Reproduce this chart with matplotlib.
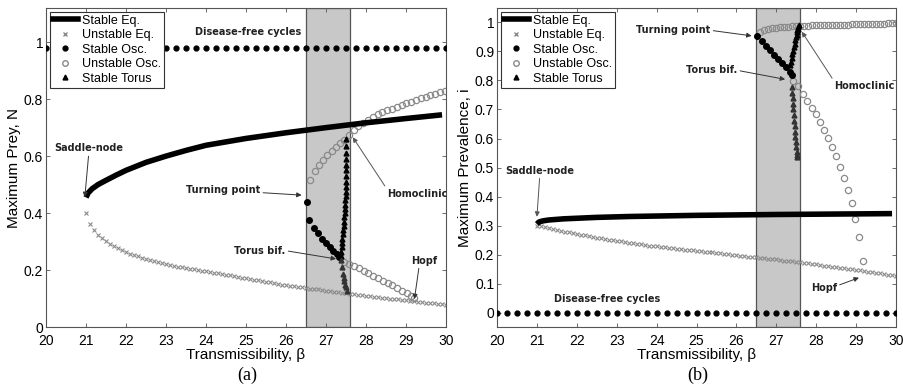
import numpy as np
import matplotlib.pyplot as plt
from matplotlib.lines import Line2D

# ---------------- panel (a): maximum prey N ----------------
a_seq_b = [21.0, 21.05, 21.15, 21.3, 21.5, 21.75, 22.0, 22.5, 23.0, 23.5, 24.0, 25.0, 26.0, 27.0, 28.0, 29.0, 29.9]
a_seq_y = [0.455, 0.47, 0.485, 0.50, 0.515, 0.533, 0.55, 0.578, 0.60, 0.62, 0.638, 0.662, 0.682, 0.700, 0.717, 0.732, 0.745]

a_ueq_b = np.round(np.arange(21.0, 30.01, 0.1), 2)
a_ueq_y = [0.400, 0.362, 0.340, 0.324, 0.311, 0.301, 0.292, 0.284, 0.277, 0.270,
           0.264, 0.258, 0.253, 0.248, 0.243, 0.239, 0.235, 0.231, 0.228, 0.224,
           0.221, 0.218, 0.215, 0.212, 0.210, 0.207, 0.205, 0.202, 0.200, 0.197,
           0.195, 0.193, 0.190, 0.188, 0.186, 0.183, 0.181, 0.178, 0.176, 0.173,
           0.171, 0.169, 0.166, 0.164, 0.161, 0.159, 0.157, 0.154, 0.152, 0.149,
           0.147, 0.145, 0.143, 0.141, 0.139, 0.137, 0.135, 0.134, 0.132, 0.130,
           0.128, 0.126, 0.124, 0.122, 0.120, 0.119, 0.117, 0.115, 0.113, 0.112,
           0.110, 0.108, 0.107, 0.105, 0.103, 0.102, 0.100, 0.098, 0.097, 0.095,
           0.094, 0.092, 0.091, 0.089, 0.087, 0.086, 0.084, 0.083, 0.081, 0.080,
           0.078]

a_sosc_b = [26.52, 26.58, 26.71, 26.79, 26.9, 27.0, 27.1, 27.18, 27.27, 27.33]
a_sosc_y = [0.438, 0.374, 0.347, 0.329, 0.309, 0.295, 0.28, 0.268, 0.256, 0.247]

a_uosc1_b = [26.61, 26.73, 26.83, 26.93, 27.03, 27.15, 27.25, 27.35, 27.46, 27.57, 27.69, 27.81,
             27.93, 28.05, 28.17, 28.29, 28.41, 28.53, 28.65, 28.77, 28.89, 29.01, 29.13, 29.25,
             29.37, 29.49, 29.61, 29.73, 29.85, 29.97]
a_uosc1_y = [0.517, 0.548, 0.57, 0.588, 0.604, 0.618, 0.632, 0.646, 0.658, 0.674, 0.69, 0.704,
             0.716, 0.727, 0.737, 0.747, 0.755, 0.761, 0.767, 0.773, 0.779, 0.785, 0.791, 0.797,
             0.803, 0.809, 0.814, 0.819, 0.824, 0.829]
a_uosc2_b = [27.46, 27.58, 27.7, 27.82, 27.94, 28.06, 28.18, 28.3, 28.42, 28.54, 28.66, 28.78,
             28.9, 29.02, 29.12, 29.2]
a_uosc2_y = [0.229, 0.222, 0.214, 0.206, 0.197, 0.189, 0.18, 0.172, 0.163, 0.155, 0.146, 0.137,
             0.128, 0.118, 0.109, 0.101]

a_tor1_b = [27.37, 27.38, 27.39, 27.40, 27.41, 27.42, 27.43, 27.44, 27.45, 27.46, 27.47, 27.475,
            27.48, 27.485, 27.49, 27.49, 27.495, 27.5, 27.5, 27.5, 27.505, 27.505, 27.51, 27.51, 27.51]
a_tor1_y = [0.25, 0.265, 0.28, 0.295, 0.31, 0.325, 0.34, 0.355, 0.37, 0.385, 0.40, 0.415,
            0.43, 0.445, 0.46, 0.475, 0.49, 0.51, 0.53, 0.55, 0.57, 0.59, 0.61, 0.635, 0.66]
a_tor2_b = [27.38, 27.40, 27.42, 27.44, 27.46, 27.48, 27.5, 27.52]
a_tor2_y = [0.235, 0.21, 0.186, 0.172, 0.16, 0.148, 0.139, 0.128]

a_dfc_y = 0.98

# ---------------- panel (b): maximum prevalence i ----------------
b_seq_b = [21.0, 21.05, 21.15, 21.3, 21.67, 22.5, 23.3, 25.0, 27.0, 29.0, 29.9]
b_seq_y = [0.305, 0.312, 0.316, 0.319, 0.323, 0.328, 0.331, 0.335, 0.338, 0.340, 0.341]

b_ueq_b = np.round(np.arange(21.0, 30.01, 0.1), 2)
b_ueq_y = [0.300, 0.297, 0.294, 0.291, 0.288, 0.285, 0.282, 0.279, 0.277, 0.274,
           0.271, 0.268, 0.266, 0.263, 0.261, 0.258, 0.256, 0.254, 0.251, 0.249,
           0.247, 0.245, 0.243, 0.241, 0.239, 0.237, 0.235, 0.233, 0.231, 0.230,
           0.228, 0.226, 0.225, 0.223, 0.222, 0.220, 0.219, 0.217, 0.216, 0.214,
           0.213, 0.211, 0.210, 0.208, 0.207, 0.205, 0.204, 0.202, 0.201, 0.199,
           0.198, 0.196, 0.195, 0.193, 0.192, 0.190, 0.189, 0.187, 0.186, 0.184,
           0.183, 0.181, 0.179, 0.178, 0.176, 0.174, 0.173, 0.171, 0.169, 0.168,
           0.166, 0.164, 0.162, 0.160, 0.158, 0.157, 0.155, 0.153, 0.151, 0.149,
           0.147, 0.145, 0.143, 0.141, 0.139, 0.137, 0.135, 0.133, 0.130, 0.128,
           0.126]

b_sosc_b = [26.51, 26.63, 26.74, 26.84, 26.94, 27.05, 27.15, 27.24, 27.33, 27.39]
b_sosc_y = [0.952, 0.935, 0.919, 0.904, 0.889, 0.875, 0.861, 0.846, 0.831, 0.82]

b_uosc1_b = np.round(np.arange(26.6, 30.01, 0.1), 2)
b_uosc1_y = [0.966, 0.973, 0.977, 0.980, 0.982, 0.984, 0.985, 0.986, 0.987, 0.988,
             0.988, 0.989, 0.989, 0.990, 0.990, 0.991, 0.991, 0.991, 0.992, 0.992,
             0.993, 0.993, 0.993, 0.994, 0.994, 0.994, 0.995, 0.995, 0.995, 0.996,
             0.996, 0.996, 0.997, 0.997, 0.997]
b_uosc2_b = [27.43, 27.55, 27.68, 27.78, 27.89, 28.0, 28.1, 28.2, 28.3, 28.39, 28.5, 28.6,
             28.7, 28.79, 28.89, 28.98, 29.08, 29.17]
b_uosc2_y = [0.797, 0.781, 0.755, 0.729, 0.706, 0.683, 0.657, 0.629, 0.603, 0.57, 0.539, 0.503,
             0.465, 0.423, 0.377, 0.323, 0.26, 0.178]

b_tor1_b = [27.34, 27.36, 27.38, 27.40, 27.42, 27.44, 27.46, 27.48, 27.50, 27.51, 27.52, 27.53,
            27.54, 27.55, 27.56]
b_tor1_y = [0.852, 0.865, 0.878, 0.89, 0.902, 0.914, 0.926, 0.938, 0.95, 0.958, 0.966, 0.973,
            0.979, 0.985, 0.99]
b_tor2_b = [27.39, 27.40, 27.41, 27.42, 27.43, 27.44, 27.45, 27.46, 27.47, 27.48, 27.49, 27.50,
            27.51, 27.52, 27.53]
b_tor2_y = [0.777, 0.758, 0.739, 0.72, 0.702, 0.682, 0.662, 0.642, 0.622, 0.605, 0.588, 0.571,
            0.555, 0.543, 0.535]

b_dfc_y = 0.0

dfc_b = np.linspace(20, 30, 41)
shade = (26.5, 27.6)

GRAY = '#8a8a8a'
SANS = 'Liberation Sans'
ANN = dict(fontsize=7, fontweight='bold', family='DejaVu Sans', color='#222222')
ARR = dict(arrowstyle='-|>', color='#333333', lw=0.7, mutation_scale=7, shrinkA=0, shrinkB=0)


def draw_panel(ax, seq, ueq, sosc, uosc1, uosc2, tor1, tor2, dfc_y):
    ax.axvspan(shade[0], shade[1], facecolor='#c8c8c8', edgecolor='#555555', lw=0.9, zorder=0)
    ax.plot(dfc_b, [dfc_y] * len(dfc_b), 'o', color='black', ms=3.5, ls='none', zorder=3)
    ax.plot(ueq[0], ueq[1], 'x', color=GRAY, ms=3.5, mew=0.8, ls='none', zorder=2)
    ax.plot(seq[0], seq[1], '-', color='black', lw=4, zorder=3, solid_capstyle='butt')
    ax.plot(uosc1[0], uosc1[1], 'o', mfc='none', mec=GRAY, ms=4.5, mew=0.9, ls='none', zorder=2)
    ax.plot(uosc2[0], uosc2[1], 'o', mfc='none', mec=GRAY, ms=4.5, mew=0.9, ls='none', zorder=2)
    ax.plot(sosc[0], sosc[1], 'o', color='black', ms=4, ls='none', zorder=4)
    ax.plot(tor1[0], tor1[1], '^', color='black', ms=3.5, ls='none', zorder=4)
    ax.plot(tor2[0], tor2[1], '^', color='#333333', ms=3.5, ls='none', zorder=4)

    ax.set_xlim(20, 30)
    ax.set_xticks(range(20, 31))
    ax.tick_params(direction='in', top=True, right=True, length=3, width=0.6,
                   labelsize=10, color='#555555')
    ax.tick_params(axis='x', pad=5)
    ax.tick_params(axis='y', pad=2)
    for lab in ax.get_xticklabels() + ax.get_yticklabels():
        lab.set_family(SANS)
    for s in ax.spines.values():
        s.set_color('#555555')
        s.set_linewidth(0.8)
    ax.set_xlabel('Transmissibility, β', fontsize=11, family=SANS, labelpad=0)

    handles = [Line2D([], [], color='black', lw=4),
               Line2D([], [], marker='x', color=GRAY, ls='none', ms=3.5),
               Line2D([], [], marker='o', color='black', ls='none', ms=3.5),
               Line2D([], [], marker='o', mfc='none', mec=GRAY, ls='none', ms=4),
               Line2D([], [], marker='^', color='black', ls='none', ms=3.5)]
    labels = ['Stable Eq.', 'Unstable Eq.', 'Stable Osc.', 'Unstable Osc.', 'Stable Torus']
    leg = ax.legend(handles, labels, loc='upper left', fancybox=False, framealpha=1,
                    edgecolor='#333333', prop={'family': SANS, 'size': 9},
                    handlelength=2.0, handletextpad=0.3, labelspacing=0.2,
                    borderpad=0.25, borderaxespad=0.3)
    leg.get_frame().set_linewidth(0.8)


fig = plt.figure(figsize=(9.04, 3.92), dpi=100)
ax1 = fig.add_axes([0.0509, 0.1658, 0.4425, 0.8138])
ax2 = fig.add_axes([0.5498, 0.1658, 0.4414, 0.8138])

draw_panel(ax1, (a_seq_b, a_seq_y), (a_ueq_b, a_ueq_y), (a_sosc_b, a_sosc_y),
           (a_uosc1_b, a_uosc1_y), (a_uosc2_b, a_uosc2_y), (a_tor1_b, a_tor1_y),
           (a_tor2_b, a_tor2_y), a_dfc_y)
ax1.set_ylim(0, 1.12)
ax1.set_yticks([0, 0.2, 0.4, 0.6, 0.8, 1])
ax1.set_yticklabels(['0', '0.2', '0.4', '0.6', '0.8', '1'], family=SANS)
ax1.set_ylabel('Maximum Prey, N', fontsize=11, family=SANS, labelpad=2)

ax1.text(25.05, 1.037, 'Disease-free cycles', ha='center', va='center', **ANN)
ax1.annotate('Saddle-node', xy=(20.97, 0.456), xytext=(21.08, 0.627), ha='center', va='center',
             arrowprops=ARR, **ANN)
ax1.annotate('Turning point', xy=(26.39, 0.463), xytext=(24.43, 0.48), ha='center', va='center',
             arrowprops=ARR, **ANN)
ax1.annotate('Homoclinic', xy=(27.67, 0.666), xytext=(29.27, 0.468), ha='center', va='center',
             arrowprops=dict(ARR, relpos=(0.0, 1.0), color='#555555'), **ANN)
ax1.annotate('Torus bif.', xy=(27.25, 0.239), xytext=(25.35, 0.268), ha='center', va='center',
             arrowprops=dict(ARR, relpos=(1.0, 0.5)), **ANN)
ax1.annotate('Hopf', xy=(29.21, 0.098), xytext=(29.46, 0.233), ha='center', va='center',
             arrowprops=dict(ARR, relpos=(0.3, 0.0)), **ANN)

draw_panel(ax2, (b_seq_b, b_seq_y), (b_ueq_b, b_ueq_y), (b_sosc_b, b_sosc_y),
           (b_uosc1_b, b_uosc1_y), (b_uosc2_b, b_uosc2_y), (b_tor1_b, b_tor1_y),
           (b_tor2_b, b_tor2_y), b_dfc_y)
ax2.set_ylim(-0.05, 1.05)
ax2.set_yticks(np.round(np.arange(0, 1.01, 0.1), 1))
ax2.set_yticklabels(['0'] + ['0.%d' % k for k in range(1, 10)] + ['1'], family=SANS)
ax2.set_ylabel('Maximum Prevalence, i', fontsize=11, family=SANS, labelpad=2)

ax2.text(22.76, 0.045, 'Disease-free cycles', ha='center', va='center', **ANN)
ax2.annotate('Turning point', xy=(26.38, 0.954), xytext=(24.42, 0.973), ha='center', va='center',
             arrowprops=dict(ARR, relpos=(1.0, 0.5)), **ANN)
ax2.annotate('Torus bif.', xy=(27.22, 0.804), xytext=(25.38, 0.835), ha='center', va='center',
             arrowprops=dict(ARR, relpos=(1.0, 0.5)), **ANN)
ax2.annotate('Homoclinic', xy=(27.64, 0.968), xytext=(29.2, 0.781), ha='center', va='center',
             arrowprops=dict(ARR, relpos=(0.0, 1.0), color='#555555'), **ANN)
ax2.annotate('Saddle-node', xy=(21.0, 0.33), xytext=(21.08, 0.489), ha='center', va='center',
             arrowprops=dict(ARR, color='#555555'), **ANN)
ax2.annotate('Hopf', xy=(29.07, 0.12), xytext=(28.19, 0.085), ha='center', va='center',
             arrowprops=dict(ARR, relpos=(1.0, 0.7)), **ANN)

fig.text(0.274, 0.043, '(a)', ha='center', va='center', fontsize=13, family='Liberation Serif')
fig.text(0.772, 0.043, '(b)', ha='center', va='center', fontsize=13, family='Liberation Serif')

fig.savefig('out.png', dpi=100)
